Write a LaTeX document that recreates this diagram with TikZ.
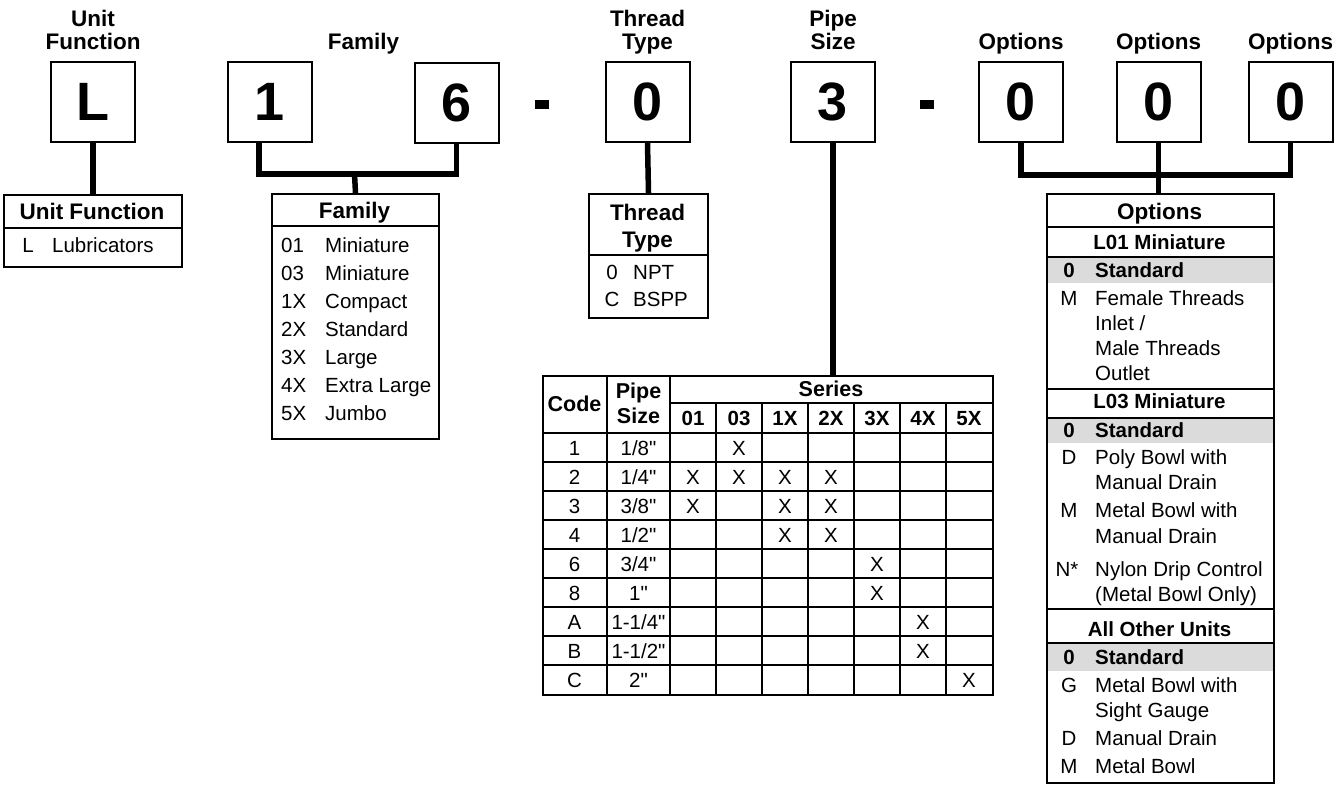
\documentclass[tikz,border=0pt]{standalone}
\usepackage{fontspec}
\setmainfont{Liberation Sans}
\definecolor{band}{gray}{0.86}
\newcommand\inch{\textquotedbl}
\begin{document}
\begin{tikzpicture}[x=1pt,y=-1pt,
  codebox/.style={draw,line width=2pt,minimum width=84,minimum height=80,inner sep=0pt,font=\fontsize{54}{54}\selectfont\bfseries},
  conn/.style={line width=5.5pt},
  frame/.style={draw,line width=2pt,anchor=north west,inner sep=0pt},
  dashbox/.style={fill,minimum width=14,minimum height=9,inner sep=0pt},
  hd/.style={anchor=base,inner sep=0pt,font=\fontsize{22.5}{24}\selectfont\bfseries},
  th/.style={anchor=base,inner sep=0pt,font=\fontsize{21.5}{24}\selectfont\bfseries},
  sh/.style={anchor=base,inner sep=0pt,font=\fontsize{20.5}{24}\selectfont\bfseries},
  shl/.style={sh,anchor=base west},
  tx/.style={anchor=base,inner sep=0pt,font=\fontsize{20.5}{24}\selectfont},
  txl/.style={tx,anchor=base west},
  sep/.style={line width=2pt},
  thinsep/.style={line width=1.5pt}]
\useasboundingbox (0,0) rectangle (1343,785);

% ---------- top headers ----------
\node[hd] (hU1) at (93,26) {Unit};
\node[hd] (hU2) at (93,49) {Function};
\node[hd] (hF) at (363.5,49) {Family};
\node[hd] (hT1) at (647.5,26) {Thread};
\node[hd] (hT2) at (647.5,49) {Type};
\node[hd] (hP1) at (833,26) {Pipe};
\node[hd] (hP2) at (833,49) {Size};
\node[hd] (hO1) at (1021,49) {Options};
\node[hd] (hO2) at (1158.5,49) {Options};
\node[hd] (hO3) at (1290.5,49) {Options};

% ---------- code boxes ----------
\node[codebox] (bL) at (93,102) {L};
\node[codebox] (b1) at (270,102) {1};
\node[codebox] (b6) at (456.5,103) {6};
\node[dashbox] (d1) at (542,104.5) {};
\node[codebox] (b0) at (647.5,102) {0};
\node[codebox] (b3) at (833,102) {3};
\node[dashbox] (d2) at (926.5,104.5) {};
\node[codebox] (o1) at (1021,102) {0};
\node[codebox] (o2) at (1158.5,102) {0};
\node[codebox] (o3) at (1290.5,102) {0};

% ---------- Unit Function table ----------
\node[frame,minimum width=178,minimum height=72] (uf) at (3,194) {};
\draw[sep] (3,228) -- (181,228);
\node[hd] (ufh) at (92,219) {Unit Function};
\node[tx] (ufc) at (28,252) {L};
\node[txl] (ufd) at (52,252) {Lubricators};

% ---------- Family table ----------
\node[frame,minimum width=167,minimum height=245] (fam) at (271,193) {};
\draw[sep] (271,226) -- (438,226);
\node[hd] (famh) at (354.5,218) {Family};
\foreach \c/\d [count=\i] in {01/Miniature,03/Miniature,1X/Compact,2X/Standard,3X/Large,4X/Extra Large,5X/Jumbo}{
  \node[txl] (fc\i) at (281,{252+28*(\i-1)}) {\c};
  \node[txl] (fd\i) at (325,{252+28*(\i-1)}) {\d};
}

% ---------- Thread Type table ----------
\node[frame,minimum width=119,minimum height=124] (tt) at (588,193) {};
\draw[sep] (588,255) -- (707,255);
\node[hd] (tth1) at (647.5,220) {Thread};
\node[hd] (tth2) at (647.5,247) {Type};
\node[tx] (ttc1) at (612,279) {0};
\node[txl] (ttd1) at (633,279) {NPT};
\node[tx] (ttc2) at (612,306) {C};
\node[txl] (ttd2) at (633,306) {BSPP};

% ---------- Pipe size table ----------
\node[frame,minimum width=450,minimum height=319] (tbl) at (542,375) {};
\draw[sep] (607,375) -- (607,694);
\draw[sep] (670,375) -- (670,694);
\draw[sep] (670,403) -- (992,403);
\draw[sep] (542,433) -- (992,433);
\foreach \x in {716,762,808,854,900,946} \draw[thinsep] (\x,403) -- (\x,694);
\foreach \k in {1,...,8} \draw[thinsep] (542,{433+29*\k}) -- (992,{433+29*\k});
\node[th] (tcode) at (574.5,411.5) {Code};
\node[th] (tpipe1) at (638.5,398) {Pipe};
\node[th] (tpipe2) at (638.5,423) {Size};
\node[th] (tser) at (831,396.5) {Series};
\foreach \s [count=\j] in {01,03,1X,2X,3X,4X,5X}
  \node[sh] (ts\j) at ({693+46*(\j-1)},425.5) {\s};
\node[tx] (rc1) at (574.5,455) {1};  \node[tx] (rp1) at (638.5,455) {1/8\inch};
\node[tx] (rc2) at (574.5,484) {2};  \node[tx] (rp2) at (638.5,484) {1/4\inch};
\node[tx] (rc3) at (574.5,513) {3};  \node[tx] (rp3) at (638.5,513) {3/8\inch};
\node[tx] (rc4) at (574.5,542) {4};  \node[tx] (rp4) at (638.5,542) {1/2\inch};
\node[tx] (rc5) at (574.5,571) {6};  \node[tx] (rp5) at (638.5,571) {3/4\inch};
\node[tx] (rc6) at (574.5,600) {8};  \node[tx] (rp6) at (638.5,600) {1\inch};
\node[tx] (rc7) at (574.5,629) {A};  \node[tx] (rp7) at (638.5,629) {1-1/4\inch};
\node[tx] (rc8) at (574.5,658) {B};  \node[tx] (rp8) at (638.5,658) {1-1/2\inch};
\node[tx] (rc9) at (574.5,687) {C};  \node[tx] (rp9) at (638.5,687) {2\inch};
\foreach \r/\s in {1/2,2/1,2/2,2/3,2/4,3/1,3/3,3/4,4/3,4/4,5/5,6/5,7/6,8/6,9/7}
  \node[tx] (x\r\s) at ({693+46*(\s-1)},{455+29*(\r-1)}) {X};

% ---------- Options table ----------
\fill[band] (1046,257) rectangle (1273,283);
\fill[band] (1046,418) rectangle (1273,443);
\fill[band] (1046,643) rectangle (1273,671);
\node[frame,minimum width=227,minimum height=589] (opt) at (1046,193) {};
\foreach \yy in {227,257,389,418,609,643} \draw[sep] (1046,\yy) -- (1273,\yy);
\node[hd] (opth) at (1159.5,219) {Options};
\node[sh] (l01) at (1159.5,249) {L01 Miniature};
\node[sh] (a1c) at (1069,277) {0};  \node[shl] (a1d) at (1095,277) {Standard};
\node[tx] (a2c) at (1069,305) {M};  \node[txl] (a2d) at (1095,305) {Female Threads};
\node[txl] (a2e) at (1095,330) {Inlet /};
\node[txl] (a2f) at (1095,355) {Male Threads};
\node[txl] (a2g) at (1095,380) {Outlet};
\node[sh] (l03) at (1159.5,408) {L03 Miniature};
\node[sh] (b1c) at (1069,437) {0};  \node[shl] (b1d) at (1095,437) {Standard};
\node[tx] (b2c) at (1069,464) {D};  \node[txl] (b2d) at (1095,464) {Poly Bowl with};
\node[txl] (b2e) at (1095,489) {Manual Drain};
\node[tx] (b3c) at (1069,517) {M};  \node[txl] (b3d) at (1095,517) {Metal Bowl with};
\node[txl] (b3e) at (1095,543) {Manual Drain};
\node[tx] (b4c) at (1067,576) {N*}; \node[txl] (b4d) at (1095,576) {Nylon Drip Control};
\node[txl] (b4e) at (1095,601) {(Metal Bowl Only)};
\node[sh] (aou) at (1159.5,636) {All Other Units};
\node[sh] (c1c) at (1069,664) {0};  \node[shl] (c1d) at (1095,664) {Standard};
\node[tx] (c2c) at (1069,692) {G};  \node[txl] (c2d) at (1095,692) {Metal Bowl with};
\node[txl] (c2e) at (1095,717) {Sight Gauge};
\node[tx] (c3c) at (1069,745) {D};  \node[txl] (c3d) at (1095,745) {Manual Drain};
\node[tx] (c4c) at (1069,773) {M};  \node[txl] (c4d) at (1095,773) {Metal Bowl};

% ---------- connectors ----------
\draw[conn] (bL.south) -- (bL.south |- uf.north);
\coordinate (fj) at (354.5,174);
\draw[conn] ([xshift=-11pt]b1.south) |- (fj -| b6.south) -- (b6.south);
\draw[conn] (fj) -- (fam.north);
\draw[conn] (b0.south) -- (tt.north);
\draw[conn] (b3.south) -- (b3.south |- tbl.north);
\coordinate (oj) at (1158.5,175);
\draw[conn] (o1.south) |- (oj -| o3.south) -- (o3.south);
\draw[conn] (o2.south) -- (o2.south |- opt.north);
\end{tikzpicture}
\end{document}
